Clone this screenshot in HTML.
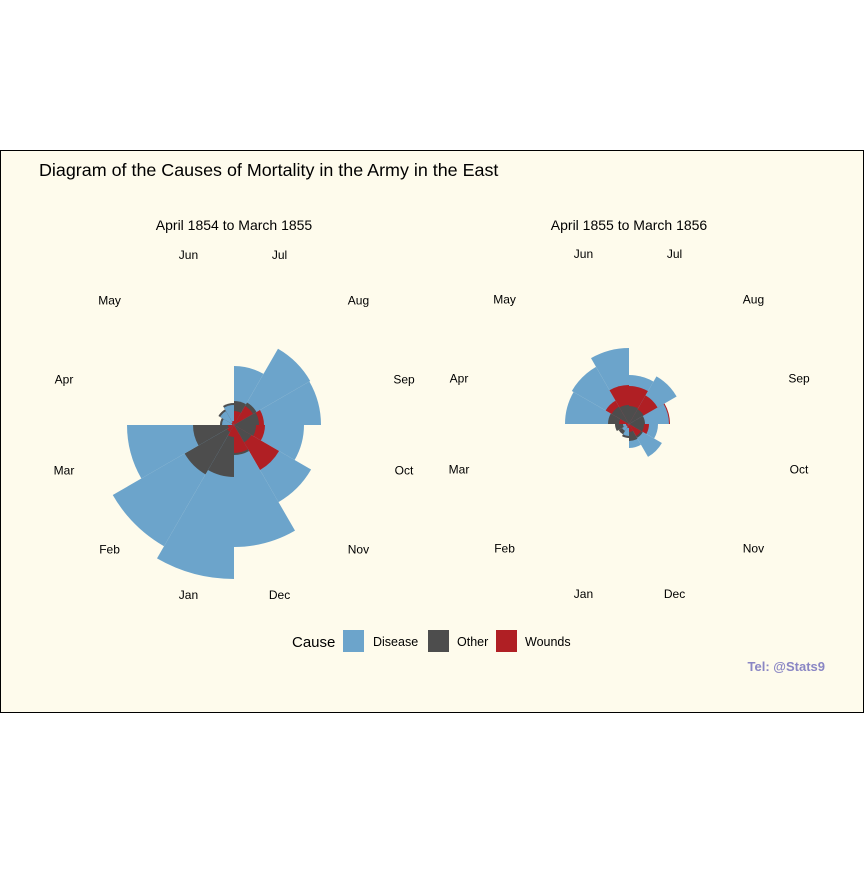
<!DOCTYPE html>
<html><head><meta charset="utf-8">
<style>
html,body{margin:0;padding:0;background:#fff;}
svg text{font-family:"Liberation Sans",Arial,sans-serif;}
</style></head>
<body>
<svg id="chart" width="864" height="864" viewBox="0 0 864 864" xmlns="http://www.w3.org/2000/svg">
<rect x="0.5" y="150.5" width="863" height="562" fill="#fefbec" stroke="#000" stroke-width="1"/>
<text x="39" y="176" font-size="17.9" fill="#000">Diagram of the Causes of Mortality in the Army in the East</text>
<text x="234" y="230" font-size="14" text-anchor="middle" fill="#000">April 1854 to March 1855</text>
<text x="629" y="230" font-size="14" text-anchor="middle" fill="#000">April 1855 to March 1856</text>
<g id="left"></g>
<g id="right"></g>
<text x="292" y="647" font-size="15" fill="#000">Cause</text>
<rect x="343" y="630" width="21" height="22" fill="#6ca4cb"/>
<text x="373" y="646" font-size="12.5" fill="#000">Disease</text>
<rect x="428" y="630" width="21" height="22" fill="#4d4d4d"/>
<text x="457" y="646" font-size="12.5" fill="#000">Other</text>
<rect x="496" y="630" width="21" height="22" fill="#b01f24"/>
<text x="525" y="646" font-size="12.5" fill="#000">Wounds</text>
<text x="825" y="671" font-size="13" font-weight="bold" text-anchor="end" fill="#8a86c4">Tel: @Stats9</text>
</svg>
<script>
// months in clockwise order starting at 12 o'clock
const months = ["Jul","Aug","Sep","Oct","Nov","Dec","Jan","Feb","Mar","Apr","May","Jun"];
const causes = ["Disease","Other","Wounds"];
const colors = {Disease:"#6ca4cb",Other:"#4d4d4d",Wounds:"#b01f24"};
// values read as radii (px) from the picture
const leftDisease = [59, 88, 87, 70, 89, 122, 154, 140, 107, 12, 16, 20];
const leftOther   = [24, 26, 25, 22, 20, 30, 52, 57, 41, 14, 18, 22];
const leftWounds  = [14, 22, 30, 31, 52, 28, 12, 8, 6, 2, 3, 4];
const rightDisease= [49, 55, 40, 29, 38, 24, 12, 8, 6, 64, 66, 76];
const rightOther  = [18, 17, 16, 15, 16, 17, 14, 12, 14, 21, 20, 19];
const rightWounds = [38, 33, 41, 20, 14, 8, 4, 3, 3, 10, 27, 39];
const labelRadius = 176;

function rScale(v){ return v; }
function angleOf(i){ return i*30; }
function pt(cx,cy,r,deg){ const a=deg*Math.PI/180; return [cx+r*Math.sin(a), cy-r*Math.cos(a)]; }

function drawRose(gid, cx, cy, series){
  const g=document.getElementById(gid);
  const ns="http://www.w3.org/2000/svg";
  months.forEach((m,i)=>{
    const items=causes.map(c=>({c, v:series[c][i]})).sort((a,b)=>b.v-a.v);
    items.forEach(it=>{
      const r=rScale(it.v); if(r<=0) return;
      const a0=angleOf(i), a1=angleOf(i+1);
      const p0=pt(cx,cy,r,a0), p1=pt(cx,cy,r,a1);
      const p=document.createElementNS(ns,"path");
      p.setAttribute("d",`M${cx},${cy} L${p0[0]},${p0[1]} A${r},${r} 0 0 1 ${p1[0]},${p1[1]} Z`);
      p.setAttribute("fill",colors[it.c]);
      
      
      g.appendChild(p);
    });
    const lp=pt(cx,cy,labelRadius,angleOf(i)+15);
    const t=document.createElementNS(ns,"text");
    t.setAttribute("x",lp[0]); t.setAttribute("y",lp[1]+4);
    t.setAttribute("font-size","12"); t.setAttribute("text-anchor","middle");
    t.textContent=m;
    
    
    g.appendChild(t);
  });
}
drawRose("left",234,425,{Disease:leftDisease,Other:leftOther,Wounds:leftWounds});
drawRose("right",629,424,{Disease:rightDisease,Other:rightOther,Wounds:rightWounds});
</script>
</body></html>
